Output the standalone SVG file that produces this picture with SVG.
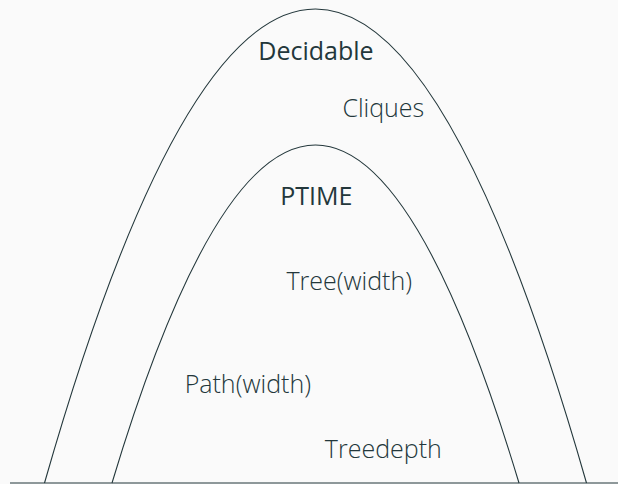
<svg xmlns="http://www.w3.org/2000/svg" width="618" height="484" viewBox="0 0 618 484">
  <style>
    .curve { fill: none; stroke: #23373b; stroke-width: 1.1; }
    .lbl { font-family: "Open Sans", "Noto Sans", sans-serif; font-size: 25px; fill: #23373b; text-anchor: middle; font-weight: 300; }
    .cls { font-family: "Open Sans", "Noto Sans", sans-serif; font-size: 25px; fill: #23373b; text-anchor: middle; font-weight: 400; }
  </style>
  <rect x="0" y="0" width="618" height="484" fill="#fafafa"/>
  <g id="connectors">
    <line id="baseline" class="curve" x1="10" y1="483" x2="618" y2="483"/>
  </g>
  <g id="decidable">
    <path class="curve" d="M44.5,483 Q315.5,-465 586.5,483"/>
    <text class="cls" x="316" y="60">Decidable</text>
  </g>
  <g id="ptime">
    <path class="curve" d="M112,483 Q315.5,-193 519,483"/>
    <text class="cls" x="316.3" y="205">PTIME</text>
  </g>
  <g id="cliques">
    <text class="lbl" x="383.3" y="116.7">Cliques</text>
  </g>
  <g id="treewidth">
    <text class="lbl" x="349.2" y="290">Tree(width)</text>
  </g>
  <g id="pathwidth">
    <text class="lbl" x="247.8" y="393.3">Path(width)</text>
  </g>
  <g id="treedepth">
    <text class="lbl" x="383.3" y="458.3">Treedepth</text>
  </g>
</svg>
